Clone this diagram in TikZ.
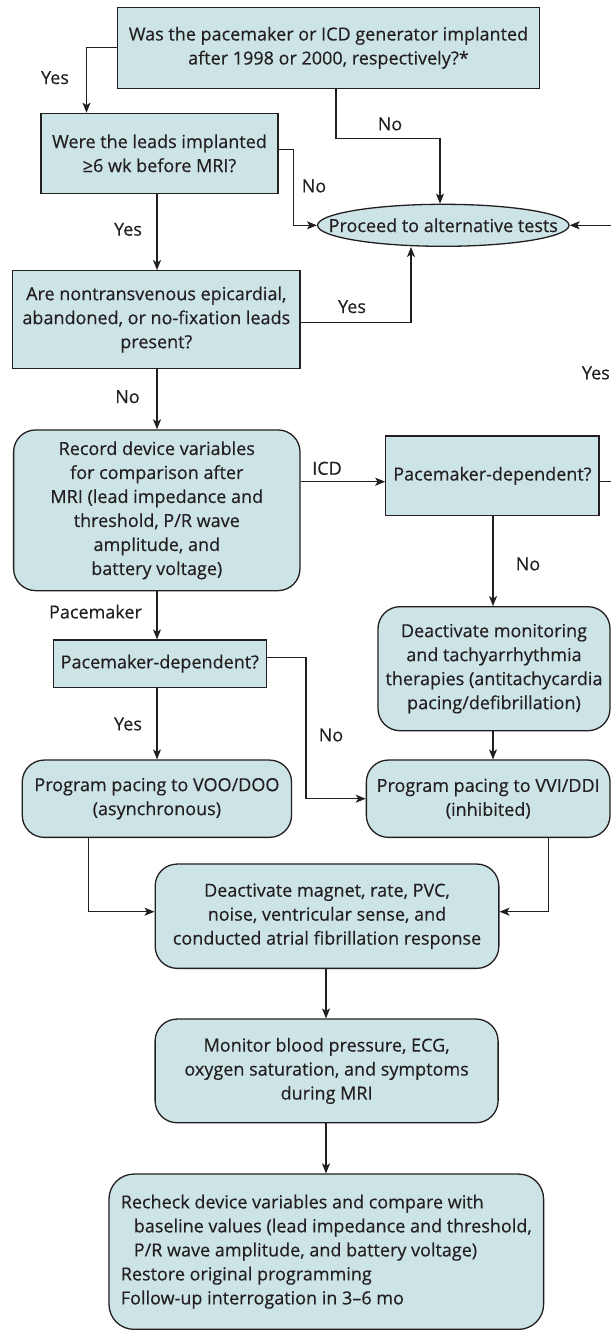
\documentclass[tikz,border=0pt]{standalone}
\usepackage{fontspec}
\setmainfont{Open Sans}[FakeBold=0.4]
\usetikzlibrary{arrows.meta,shapes.geometric,calc}
\definecolor{boxfill}{RGB}{205,228,231}
\definecolor{ink}{RGB}{35,31,32}
\begin{document}
\begin{tikzpicture}[x=1pt,y=-1pt,
  every node/.style={font=\fontsize{18}{24}\selectfont, text=ink},
  sq/.style={draw=ink, line width=1.3pt, fill=boxfill, align=center, inner sep=0pt},
  rnd/.style={sq, rounded corners=22pt},
  arr/.style={draw=ink, line width=1.1pt, -{Stealth[length=10pt,width=8pt,inset=2.5pt]}},
  ln/.style={draw=ink, line width=1.1pt},
  lbl/.style={inner sep=0pt}
]
\useasboundingbox (0,0) rectangle (611,1330);
% columns / helper coordinates
\coordinate (cA) at (157,0);
\coordinate (cB) at (493,0);
\coordinate (cC) at (326,0);
\coordinate (cL) at (88.9,0);
\coordinate (cR) at (548.7,0);
\coordinate (cK) at (86.5,0);
\coordinate (cN) at (336,0);
\coordinate (cE) at (440,0);
\coordinate (cX) at (411,0);
\coordinate (cJ) at (293.5,0);
\coordinate (cP) at (306,0);
\coordinate (yICD) at (0,481.7);
\coordinate (redge1) at (611,225.3);
\coordinate (redge2) at (611,481.7);

% boxes
\node[sq, minimum width=421.7pt, minimum height=81pt] (b1) at (328.5,47.8)
  {Was the pacemaker or ICD generator implanted\\after 1998 or 2000, respectively?*};
\node[sq, minimum width=237pt, minimum height=80pt] (b2) at (159.5,153.3)
  {Were the leads implanted\\≥6 wk before MRI?};
\node[ellipse, draw=ink, line width=1.3pt, fill=boxfill, inner sep=0pt,
  minimum width=251.4pt, minimum height=42pt] (ell) at (443.3,225.3)
  {\makebox[0pt]{Proceed to alternative tests}};
\node[sq, minimum width=287.5pt, minimum height=97.6pt] (b3) at (156.3,319.5)
  {Are nontransvenous epicardial,\\abandoned, or no-fixation leads\\present?};
\node[rnd, minimum width=286.4pt, minimum height=160.7pt] (b4) at (156.8,510.3)
  {Record device variables\\for comparison after\\MRI (lead impedance and\\threshold, P/R wave\\amplitude, and\\battery voltage)};
\node[sq, minimum width=213.2pt, minimum height=79.7pt] (b5) at (492.4,475.8)
  {Pacemaker-dependent?};
\node[rnd, minimum width=232pt, minimum height=124pt] (b6) at (494,668.7)
  {Deactivate monitoring\\and tachyarrhythmia\\therapies (antitachycardia\\pacing/defibrillation)};
\node[sq, minimum width=212.8pt, minimum height=47.3pt] (b7) at (159.8,663.7)
  {Pacemaker-dependent?};
\node[rnd, minimum width=269.3pt, minimum height=77.3pt] (b8) at (156.9,798.7)
  {Program pacing to VOO/DOO\\(asynchronous)};
\node[rnd, minimum width=243.7pt, minimum height=77.3pt] (b9) at (488.2,798.7)
  {Program pacing to VVI/DDI\\(inhibited)};
\node[rnd, minimum width=343.7pt, minimum height=104.3pt] (b10) at (327,916.2)
  {Deactivate magnet, rate, PVC,\\noise, ventricular sense, and\\conducted atrial fibrillation response};
\node[rnd, minimum width=343pt, minimum height=103.7pt] (b11) at (326.6,1070.9)
  {Monitor blood pressure, ECG,\\oxygen saturation, and symptoms\\during MRI};
\node[rnd, rounded corners=25pt, align=left,
  minimum width=434.6pt, minimum height=155.3pt] (b12) at (326.3,1251.7)
  {Recheck device variables and compare with\\
   \hspace*{13pt}baseline values (lead impedance and threshold,\\
   \hspace*{13pt}P/R wave amplitude, and battery voltage)\\
   Restore original programming\\
   Follow-up interrogation in 3–6 mo};

% labels
\node[lbl] (l1) at (55,77.7) {Yes};
\node[lbl] (l2) at (390,124) {No};
\node[lbl] (l3) at (314,186) {No};
\node[lbl] (l4) at (128,229.3) {Yes};
\node[lbl] (l5) at (352,306.7) {Yes};
\node[lbl, anchor=east] (l6) at (610,373) {Yes};
\node[lbl] (l7) at (127.5,396.7) {No};
\node[lbl] (l8) at (327,468.3) {ICD};
\node[lbl] (l9) at (528,564) {No};
\node[lbl] (l10) at (95.5,611.7) {Pacemaker};
\node[lbl] (l11) at (128,724) {Yes};
\node[lbl] (l12) at (331,735) {No};

% connectors
\draw[arr] (b1.west) -| (b2.north -| cK);
\draw[arr] (b1.south -| cN) -- ++(0,49.4) -| (ell.north -| cE);
\draw[arr] ([yshift=4pt]b2.east) -| (ell.west -| cJ) -- (ell.west);
\draw[arr] (redge1) -- (ell.east);
\draw[arr] (b2.south -| cA) -- (b3.north -| cA);
\draw[arr] ([yshift=-2.8pt]b3.east) -| (ell.south -| cX);
\draw[arr] (b3.south -| cA) -- (b4.north -| cA);
\draw[arr] (b4.east |- yICD) -- (b5.west |- yICD);
\draw[ln] (b5.east |- yICD) -- (redge2);
\draw[arr] (b5.south -| cB) -- (b6.north -| cB);
\draw[arr] (b4.south -| cA) -- (b7.north -| cA);
\draw[arr] ([yshift=6.4pt]b7.east) -| (b9.west -| cP) -- (b9.west);
\draw[arr] (b7.south -| cA) -- (b8.north -| cA);
\draw[arr] (b6.south -| cB) -- (b9.north -| cB);
\draw[arr] (b8.south -| cL) |- ([yshift=4.5pt]b10.west);
\draw[arr] (b9.south -| cR) |- ([yshift=4.5pt]b10.east);
\draw[arr] (b10.south -| cC) -- (b11.north -| cC);
\draw[arr] (b11.south -| cC) -- (b12.north -| cC);
\end{tikzpicture}
\end{document}
